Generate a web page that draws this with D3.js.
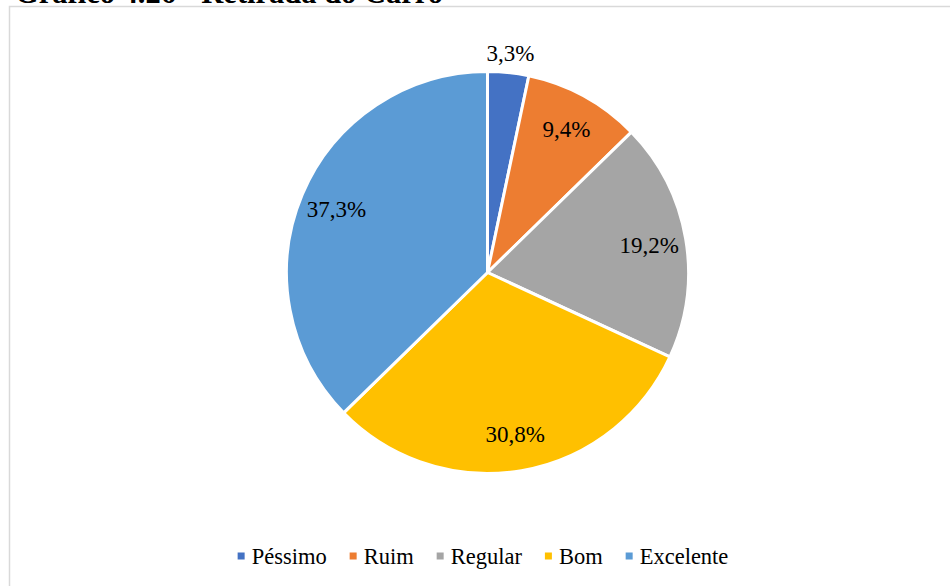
<!DOCTYPE html>
<html>
<head>
<meta charset="utf-8">
<script src="https://cdn.jsdelivr.net/npm/d3@7"></script>
<style>
  html, body { margin: 0; padding: 0; background: #ffffff; }
  svg { display: block; }
</style>
</head>
<body>
<svg id="chart" width="950" height="586"></svg>
<script>
// Avaliação: retirada do carro
const titleText = "Gráfico 4.26 - Retirada do Carro";
const categories = ["Péssimo", "Ruim", "Regular", "Bom", "Excelente"];
const values = [3.3, 9.4, 19.2, 30.8, 37.3];
const colors = ["#4472C4", "#ED7D31", "#A5A5A5", "#FFC000", "#5B9BD5"];

const W = 950, H = 586;
const svg = d3.select("#chart");
const serif = "'Liberation Serif', 'Times New Roman', 'DejaVu Serif', serif";

// title (partly above the top edge)
svg.append("text")
  .attr("x", 15)
  .attr("y", 2.5)
  .attr("font-family", serif)
  .attr("font-weight", "bold")
  .attr("font-size", 30.5)
  .attr("fill", "#000")
  .text(titleText);

// chart frame
svg.append("rect")
  .attr("x", 9.5).attr("y", 6.5)
  .attr("width", W + 20).attr("height", H + 20)
  .attr("fill", "#ffffff")
  .attr("stroke", "#d9d9d9")
  .attr("stroke-width", 1.5);

const cx = 487.5, cy = 272.5, R = 201;
const data = categories.map((c, i) => ({ cat: c, value: values[i], color: colors[i] }));

const pie = d3.pie().sort(null).value(d => d.value).startAngle(0).endAngle(2 * Math.PI);
const arcs = pie(data);
const arc = d3.arc().innerRadius(0).outerRadius(R);
const inLabel = d3.arc().innerRadius(164).outerRadius(164);
const outLabel = d3.arc().innerRadius(221).outerRadius(221);
const total = d3.sum(values);

const g = svg.append("g").attr("transform", `translate(${cx},${cy})`);

g.selectAll("path.slice")
  .data(arcs)
  .join("path")
  .attr("class", "slice")
  .attr("d", arc)
  .attr("fill", d => d.data.color)
  .attr("stroke", "#ffffff")
  .attr("stroke-width", 3)
  .attr("stroke-linejoin", "round");

const fmt = v => v.toFixed(1).replace(".", ",") + "%";

g.selectAll("text.lbl")
  .data(arcs)
  .join("text")
  .attr("class", "lbl")
  .attr("transform", d => {
    const small = d.data.value / total < 0.05;
    const [x, y] = (small ? outLabel : inLabel).centroid(d);
    return `translate(${x},${y + 8.3})`;
  })
  .attr("text-anchor", "middle")
  .attr("font-family", serif)
  .attr("font-size", 23)
  .attr("fill", "#000")
  .text(d => fmt(d.data.value));

// legend
const legend = svg.append("g").attr("transform", "translate(0,564)");
const items = legend.selectAll("g.item")
  .data(data)
  .join("g")
  .attr("class", "item");

items.append("rect")
  .attr("y", -11.5)
  .attr("width", 7).attr("height", 7)
  .attr("fill", d => d.color);

items.append("text")
  .attr("x", 14)
  .attr("font-family", serif)
  .attr("font-size", 22.5)
  .attr("fill", "#000")
  .text(d => d.cat);

const gap = 23;
let widths = [];
items.each(function () {
  widths.push(14 + d3.select(this).select("text").node().getComputedTextLength());
});
const totalW = d3.sum(widths) + gap * (widths.length - 1);
let xPos = 483 - totalW / 2;
items.each(function (d, i) {
  d3.select(this).attr("transform", `translate(${xPos},0)`);
  xPos += widths[i] + gap;
});
</script>
</body>
</html>
